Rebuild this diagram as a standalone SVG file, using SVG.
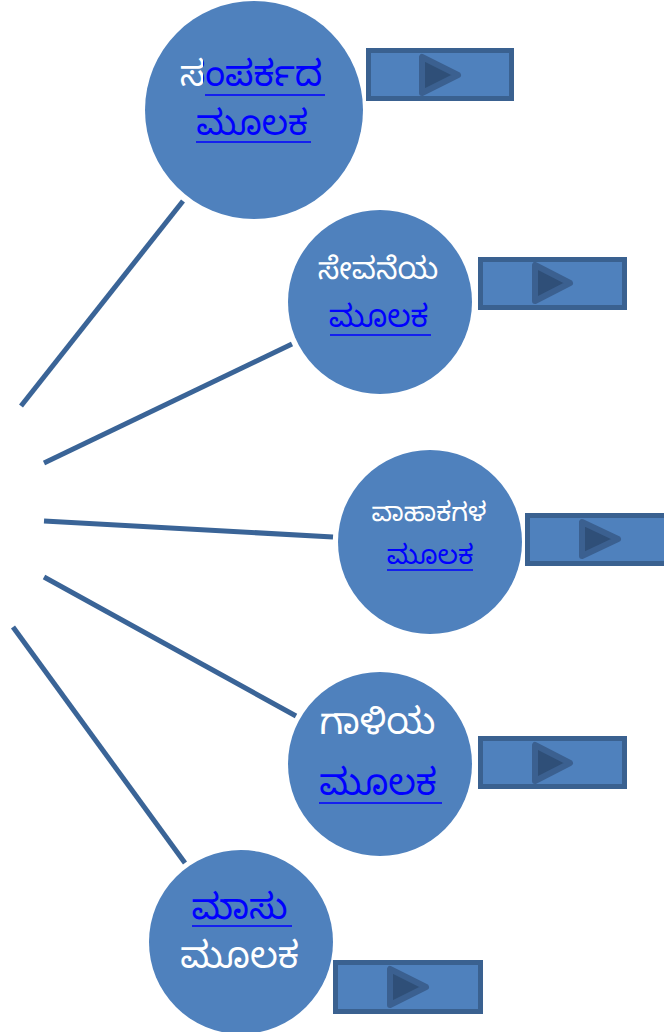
<svg xmlns="http://www.w3.org/2000/svg" width="664" height="1032" viewBox="0 0 664 1032">
<defs>
<linearGradient id="split" gradientUnits="userSpaceOnUse" x1="150" y1="0" x2="360" y2="0">
<stop offset="0.252" stop-color="#FFFFFF"/>
<stop offset="0.252" stop-color="#0000FF"/>
</linearGradient>
</defs>
<style>
.node{fill:#4F81BD}
.btn{fill:#4F81BD;stroke:#3A6190;stroke-width:5}
.play{fill:#2F4F78;stroke:#3B6090;stroke-width:6;stroke-linejoin:round}
.conn{stroke:#3A6497;stroke-width:5;fill:none}
.ul{stroke:#0000FF;stroke-width:1.6}
text{font-family:"Noto Sans Kannada","Noto Sans",sans-serif;text-anchor:middle}
.w{fill:#FFFFFF}
.b{fill:#0000FF}
</style>
<rect width="664" height="1032" fill="#FFFFFF"/>
<g id="connectors">
<line class="conn" x1="21" y1="406" x2="183" y2="201"/>
<line class="conn" x1="44" y1="463" x2="292" y2="344"/>
<line class="conn" x1="44" y1="521" x2="333" y2="537"/>
<line class="conn" x1="44" y1="577" x2="296" y2="716"/>
<line class="conn" x1="13" y1="627" x2="185" y2="863"/>
</g>
<g id="node1">
<circle class="node" cx="254" cy="110" r="109"/>
<text x="251" y="86" font-size="36" fill="url(#split)">ಸಂಪರ್ಕದ</text>
<line class="ul" x1="205" y1="95" x2="325" y2="95"/>
<text x="252" y="135" font-size="34.5" class="b">ಮೂಲಕ</text>
<line class="ul" x1="196" y1="142" x2="311" y2="142"/>
</g>
<g id="button1">
<rect class="btn" x="368.5" y="50.5" width="143" height="48"/>
<polygon class="play" points="422,57 422,93 458,75"/>
</g>
<g id="node2">
<circle class="node" cx="380" cy="302" r="92"/>
<text x="378" y="279" font-size="30.5" class="w">ಸೇವನೆಯ</text>
<text x="378.5" y="327" font-size="30.8" class="b">ಮೂಲಕ</text>
<line class="ul" x1="330" y1="335" x2="431" y2="335"/>
</g>
<g id="button2">
<rect class="btn" x="480.5" y="259.5" width="144" height="48"/>
<polygon class="play" points="535,265 535,301 570,283"/>
</g>
<g id="node3">
<circle class="node" cx="430" cy="542" r="92"/>
<text x="429" y="521" font-size="26" class="w">ವಾಹಾಕಗಳ</text>
<text x="430" y="564" font-size="26.8" class="b">ಮೂಲಕ</text>
<line class="ul" x1="387" y1="570" x2="473" y2="570"/>
</g>
<g id="button3">
<rect class="btn" x="527.5" y="515.5" width="150" height="48"/>
<polygon class="play" points="582,522 582,556 618,539"/>
</g>
<g id="node4">
<circle class="node" cx="380" cy="764" r="92"/>
<text x="377.5" y="734" font-size="36.8" class="w">ಗಾಳಿಯ</text>
<text x="378" y="795" font-size="36.3" class="b">ಮೂಲಕ</text>
<line class="ul" x1="319" y1="803" x2="442" y2="803"/>
</g>
<g id="button4">
<rect class="btn" x="480.5" y="738.5" width="144" height="48"/>
<polygon class="play" points="535,745 535,781 570,763"/>
</g>
<g id="node5">
<circle class="node" cx="241" cy="942" r="92"/>
<text x="239.5" y="919" font-size="35.8" class="b">ಮಾಸು</text>
<line class="ul" x1="192" y1="926" x2="292" y2="926"/>
<text x="239.5" y="968" font-size="36.6" class="w">ಮೂಲಕ</text>
</g>
<g id="button5">
<rect class="btn" x="335.5" y="962.5" width="145" height="49"/>
<polygon class="play" points="390,969 390,1005 426,987"/>
</g>
</svg>
